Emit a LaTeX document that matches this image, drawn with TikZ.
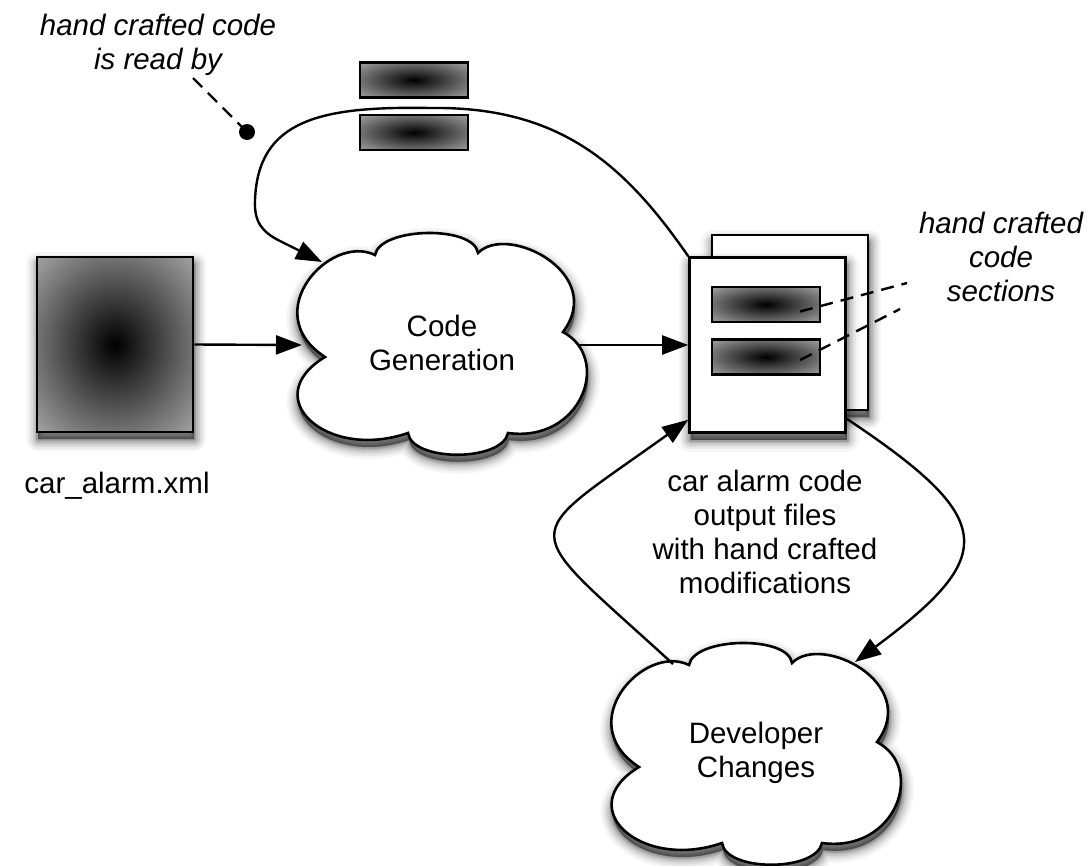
\documentclass[tikz,border=0pt]{standalone}
\usepackage{fontspec}
\setmainfont{Liberation Sans}
\usetikzlibrary{arrows.meta}

\definecolor{edgegray}{gray}{0.64}
% dark centre fading to grey at the corners
\pgfdeclareradialshading{glow}{\pgfpoint{0bp}{0bp}}{color(0bp)=(black); color(35.4bp)=(edgegray); color(50bp)=(edgegray)}

\tikzset{
  shadowpass/.style 2 args={preaction={fill=black, draw=black, opacity=#1,
      line width=#2, line join=round,
      transform canvas={xshift=1pt, yshift=-7pt}}},
  soft/.style={shadowpass={0.04}{24pt}, shadowpass={0.05}{19pt},
      shadowpass={0.06}{15pt}, shadowpass={0.08}{11pt},
      shadowpass={0.10}{7pt}, shadowpass={0.12}{4pt}, shadowpass={0.14}{1pt}},
  box/.style={draw, line width=2.6pt, inner sep=0pt},
  glowbox/.style={box, shading=glow},
  sheet/.style={box, fill=white, minimum width=156pt, minimum height=175pt},
  link/.style={line width=2.4pt, -{Triangle[length=26pt,width=19pt]}},
  hint/.style={line width=2.4pt, dash pattern=on 13pt off 8pt},
  lbl/.style={font=\fontsize{29.5pt}{34pt}\selectfont, align=center, inner sep=0pt},
  note/.style={lbl, font=\fontsize{29.5pt}{34pt}\selectfont\itshape},
  % six-puff cloud outline around its centre
  puff/.pic={
    \path[draw, fill=white, line width=2.6pt, soft]
      (-67,-88) .. controls (-62,-116) and (32,-118) .. (36,-90)
      .. controls (65,-120) and (165,-70) .. (121,-11)
      .. controls (170,15) and (140,100) .. (66,90)
      .. controls (60,119) and (-30,119) .. (-34,90)
      .. controls (-115,118) and (-185,55) .. (-117,14)
      .. controls (-185,-30) and (-112,-110) .. cycle;
  }
}

\begin{document}
\begin{tikzpicture}[x=1pt, y=-1pt]
\useasboundingbox (0,0) rectangle (1091,865);

% input model
\node[glowbox, minimum width=156pt, minimum height=175pt, soft] (xml) at (115,344.5) {};
\node[lbl, anchor=base] (xmllbl) at (117,493) {car\_alarm.xml};

% hand crafted sections fed back
\node[glowbox, minimum width=108pt, minimum height=35pt] (top1) at (414,80) {};
\node[glowbox, minimum width=108pt, minimum height=35pt] (top2) at (414,132.5) {};

% generator cloud
\coordinate (cgc) at (442,343);
\pic at (cgc) {puff};
\node[lbl] (cg) at (cgc) {Code\\Generation};

% output files
\node[sheet, soft] (back) at (790,322.5) {};
\node[sheet, soft] (front) at (767.5,345) {};
\node[glowbox, minimum width=108pt, minimum height=35pt] (sec1) at (766,304.5) {};
\node[glowbox, minimum width=108pt, minimum height=35pt] (sec2) at (766,357) {};
\node[lbl] (outlbl) at (765,532) {car alarm code\\output files\\with hand crafted\\modifications};

% developer cloud
\coordinate (dcc) at (756,753);
\pic at (dcc) {puff};
\node[lbl] (dc) at (dcc) {Developer\\Changes};

% notes
\node[note] (seclbl) at (1001,257) {hand crafted\\code\\sections};
\node[note] (readlbl) at (158,45) {hand crafted code\\is read by};

% flow
\draw[link] (xml.east) -- ([shift={(-140,2)}]cgc);
\draw[link] ([shift={(137,2)}]cgc) -- (front.west);
\draw[link] (front.north west)
  .. controls (625,165) and (560,106) .. (430,108)
  .. controls (320,106) and (258,120) .. (255,200)
  .. controls (254,222) and (262,232) .. (280,241)
  -- ([shift={(-120,-81)}]cgc);
\draw[link] ([yshift=15pt]front.south east)
  .. controls (997,519) and (999,555) .. ([shift={(99,-91)}]dcc);
\draw[link] ([shift={(-83,-89)}]dcc)
  .. controls (516,520) and (515,544) .. ([yshift=14pt]front.south west);

% pointers from the notes
\coordinate (hint1) at (907,283);
\coordinate (hint2) at (900,309);
\draw[hint] ([shift={(34,7)}]sec1.center) -- (hint1);
\draw[hint] ([shift={(34,3)}]sec2.center) -- (hint2);
\coordinate (readtail) at (193,78);
\coordinate (readdot) at (247,132);
\draw[hint] (readtail) -- (readdot);
\fill (readdot) circle[radius=8pt];
\end{tikzpicture}
\end{document}
